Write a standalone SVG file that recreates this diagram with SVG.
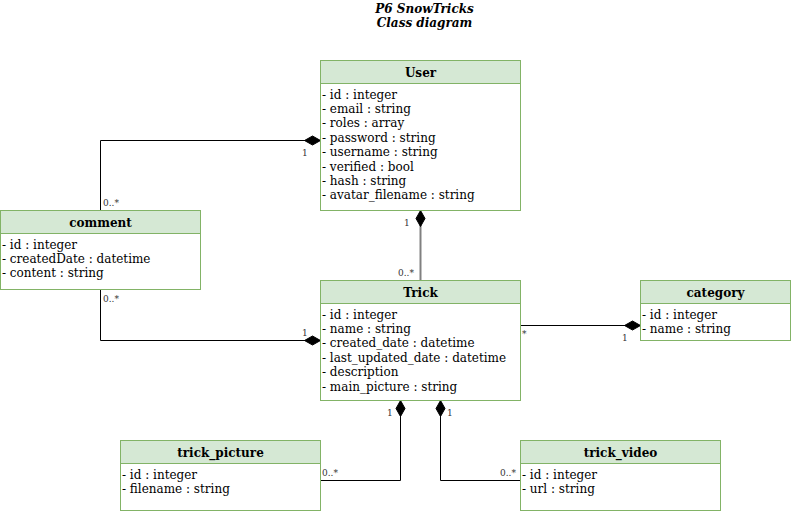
<svg xmlns="http://www.w3.org/2000/svg" width="791" height="511" viewBox="0 0 791 511">
<style>
.box{fill:#ffffff;stroke:#82b366;stroke-width:1}
.hdr{fill:#d5e8d4;stroke:#82b366;stroke-width:1}
.t{font-family:"DejaVu Serif",serif;font-size:12px;fill:#000}
.h{font-family:"DejaVu Serif",serif;font-size:12px;font-weight:bold;fill:#000;text-anchor:middle}
.title{font-family:"DejaVu Serif",serif;font-size:12px;font-weight:bold;font-style:italic;fill:#000;text-anchor:middle}
.lbl{font-family:"DejaVu Serif",serif;font-size:9px;fill:#333}
.edge{fill:none;stroke:#000;stroke-width:1}
.dia{fill:#000;stroke:#000;stroke-width:1}
</style>
<rect width="791" height="511" fill="#ffffff"/>
<g id="title">
<text class="title" x="424.5" y="12.5">P6 SnowTricks</text>
<text class="title" x="424.5" y="26.5">Class diagram</text>
</g>
<g id="connectors">
<!-- comment -> User -->
<path class="edge" d="M100.5 210.5 V140.5 H306"/>
<path class="dia" d="M320.5 140.5 L312.5 136 L304.5 140.5 L312.5 145 Z"/>
<text class="lbl" x="103" y="206">0..*</text>
<text class="lbl" x="302" y="156">1</text>
<!-- comment -> Trick -->
<path class="edge" d="M100.5 289.5 V340.5 H306"/>
<path class="dia" d="M320.5 340.5 L312.5 336 L304.5 340.5 L312.5 345 Z"/>
<text class="lbl" x="103" y="302">0..*</text>
<text class="lbl" x="302" y="336">1</text>
<!-- Trick -> User -->
<path d="M420.5 280.5 V225" fill="none" stroke="#808080" stroke-width="2"/>
<path class="dia" d="M420.5 210.5 L416 218.5 L420.5 226.5 L425 218.5 Z"/>
<text class="lbl" x="404" y="226">1</text>
<text class="lbl" x="398" y="276">0..*</text>
<!-- Trick -> category -->
<path class="edge" d="M520.5 325.5 H626"/>
<path class="dia" d="M640.5 325.5 L632.5 321 L624.5 325.5 L632.5 330 Z"/>
<text class="lbl" x="522" y="337">*</text>
<text class="lbl" x="622" y="341">1</text>
<!-- trick_picture -> Trick -->
<path class="edge" d="M320.5 480.5 H400.5 V415"/>
<path class="dia" d="M400.5 400.5 L396 408.5 L400.5 416.5 L405 408.5 Z"/>
<text class="lbl" x="322" y="476">0..*</text>
<text class="lbl" x="387" y="416">1</text>
<!-- trick_video -> Trick -->
<path class="edge" d="M520.5 480.5 H440.5 V415"/>
<path class="dia" d="M440.5 400.5 L436 408.5 L440.5 416.5 L445 408.5 Z"/>
<text class="lbl" x="500" y="476">0..*</text>
<text class="lbl" x="447" y="416">1</text>
</g>
<g id="User">
<rect class="box" x="320.5" y="60.5" width="200" height="150"/>
<rect class="hdr" x="320.5" y="60.5" width="200" height="23"/>
<text class="h" x="420.5" y="76.5">User</text>
<text class="t" x="322" y="98.5">- id : integer</text>
<text class="t" x="322" y="112.9">- email : string</text>
<text class="t" x="322" y="127.3">- roles : array</text>
<text class="t" x="322" y="141.7">- password : string</text>
<text class="t" x="322" y="156.1">- username : string</text>
<text class="t" x="322" y="170.5">- verified : bool</text>
<text class="t" x="322" y="184.9">- hash : string</text>
<text class="t" x="322" y="199.3">- avatar_filename : string</text>
</g>
<g id="comment">
<rect class="box" x="0.5" y="210.5" width="200" height="79"/>
<rect class="hdr" x="0.5" y="210.5" width="200" height="23"/>
<text class="h" x="100.5" y="226.5">comment</text>
<text class="t" x="2" y="248.5">- id : integer</text>
<text class="t" x="2" y="262.9">- createdDate : datetime</text>
<text class="t" x="2" y="277.3">- content : string</text>
</g>
<g id="Trick">
<rect class="box" x="320.5" y="280.5" width="200" height="120"/>
<rect class="hdr" x="320.5" y="280.5" width="200" height="23"/>
<text class="h" x="420.5" y="296.5">Trick</text>
<text class="t" x="322" y="318.5">- id : integer</text>
<text class="t" x="322" y="332.9">- name : string</text>
<text class="t" x="322" y="347.3">- created_date : datetime</text>
<text class="t" x="322" y="361.7">- last_updated_date : datetime</text>
<text class="t" x="322" y="376.1">- description</text>
<text class="t" x="322" y="390.5">- main_picture : string</text>
</g>
<g id="category">
<rect class="box" x="640.5" y="280.5" width="150" height="60"/>
<rect class="hdr" x="640.5" y="280.5" width="150" height="23"/>
<text class="h" x="715.5" y="296.5">category</text>
<text class="t" x="642" y="318.5">- id : integer</text>
<text class="t" x="642" y="332.9">- name : string</text>
</g>
<g id="trick_picture">
<rect class="box" x="120.5" y="440.5" width="200" height="70"/>
<rect class="hdr" x="120.5" y="440.5" width="200" height="23"/>
<text class="h" x="220.5" y="456.5">trick_picture</text>
<text class="t" x="122" y="478.5">- id : integer</text>
<text class="t" x="122" y="492.9">- filename : string</text>
</g>
<g id="trick_video">
<rect class="box" x="520.5" y="440.5" width="200" height="70"/>
<rect class="hdr" x="520.5" y="440.5" width="200" height="23"/>
<text class="h" x="620.5" y="456.5">trick_video</text>
<text class="t" x="522" y="478.5">- id : integer</text>
<text class="t" x="522" y="492.9">- url : string</text>
</g>
</svg>
